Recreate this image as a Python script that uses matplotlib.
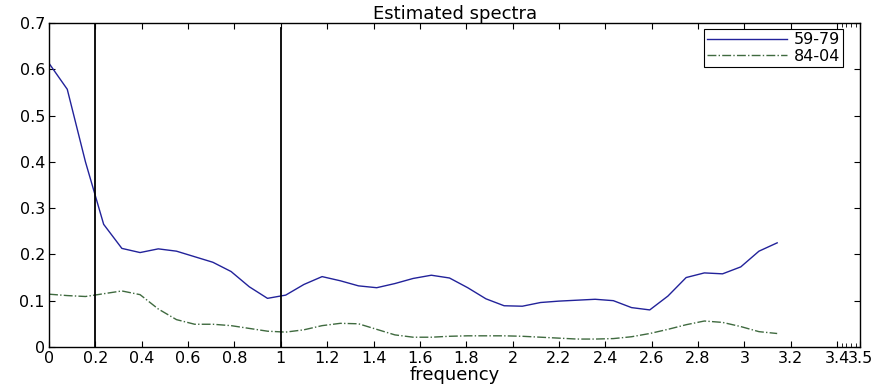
import numpy as np
import matplotlib
matplotlib.use("Agg")
import matplotlib.pyplot as plt

# frequency grid 0..pi, 41 points
freq = np.linspace(0, np.pi, 41)

spec_59_79 = [0.613, 0.557, 0.400, 0.265, 0.213, 0.204, 0.212, 0.207, 0.195, 0.183,
              0.163, 0.130, 0.105, 0.112, 0.135, 0.152, 0.143, 0.132, 0.128, 0.137,
              0.148, 0.155, 0.149, 0.128, 0.104, 0.089, 0.088, 0.096, 0.099, 0.101,
              0.103, 0.100, 0.085, 0.080, 0.110, 0.150, 0.160, 0.158, 0.173, 0.207,
              0.225]

spec_84_04 = [0.114, 0.111, 0.109, 0.115, 0.121, 0.113, 0.082, 0.059, 0.049, 0.049,
              0.046, 0.040, 0.034, 0.032, 0.037, 0.046, 0.051, 0.050, 0.038, 0.026,
              0.021, 0.021, 0.023, 0.024, 0.024, 0.024, 0.023, 0.021, 0.019, 0.017,
              0.017, 0.018, 0.022, 0.029, 0.038, 0.048, 0.056, 0.053, 0.044, 0.033,
              0.029]

labels = ["59-79", "84-04"]
x_ticks = [0, 0.2, 0.4, 0.6, 0.8, 1, 1.2, 1.4, 1.6, 1.8, 2, 2.2, 2.4, 2.6, 2.8, 3, 3.2, 3.4, 3.5]
x_tick_labels = ["0", "0.2", "0.4", "0.6", "0.8", "1", "1.2", "1.4", "1.6", "1.8", "2",
                 "2.2", "2.4", "2.6", "2.8", "3", "3.2", "3.4", "3.5"]
band_edges = [0.2, 1.0]

plt.rcParams['font.family'] = ['DejaVu Sans']

fig = plt.figure(figsize=(8.76, 3.92), dpi=100)
ax = fig.add_axes([0.056, 0.115, 0.926, 0.826])

ax.plot(freq, spec_59_79, color='#22229a', lw=1.0, label=labels[0])
ax.plot(freq, spec_84_04, color='#3f6a3f', lw=1.0, ls='-.', label=labels[1])

ax.plot([band_edges[0]] * 2, [0, 0.7], color='black', lw=1.3)
ax.plot([band_edges[1]] * 2, [0, 0.69], color='black', lw=1.3)

ax.set_xlim(0, 3.5)
ax.set_ylim(0, 0.7)
ax.set_xticks(x_ticks)
ax.set_xticklabels(x_tick_labels)
ax.set_xticks([3.42, 3.44, 3.46, 3.48], minor=True)
ax.set_yticks(np.arange(0, 0.71, 0.1))
ax.set_yticklabels(["0", "0.1", "0.2", "0.3", "0.4", "0.5", "0.6", "0.7"])

ax.tick_params(which='both', direction='in', top=True, right=True,
               labelsize=11.5, pad=3)
ax.tick_params(which='major', length=4)
ax.tick_params(which='minor', length=3)
for s in ax.spines.values():
    s.set_linewidth(1.0)

ax.set_title("Estimated spectra", fontsize=13, pad=2)
ax.set_xlabel("frequency", fontsize=13, labelpad=0)

leg = ax.legend(loc='upper right', fontsize=11.5, fancybox=False, framealpha=1,
                edgecolor='black', handlelength=5, borderpad=0.2,
                labelspacing=0.1, handletextpad=0.4, borderaxespad=0,
                bbox_to_anchor=(0.979, 0.981))
leg.get_frame().set_linewidth(0.8)

fig.savefig("out.png", dpi=100)
